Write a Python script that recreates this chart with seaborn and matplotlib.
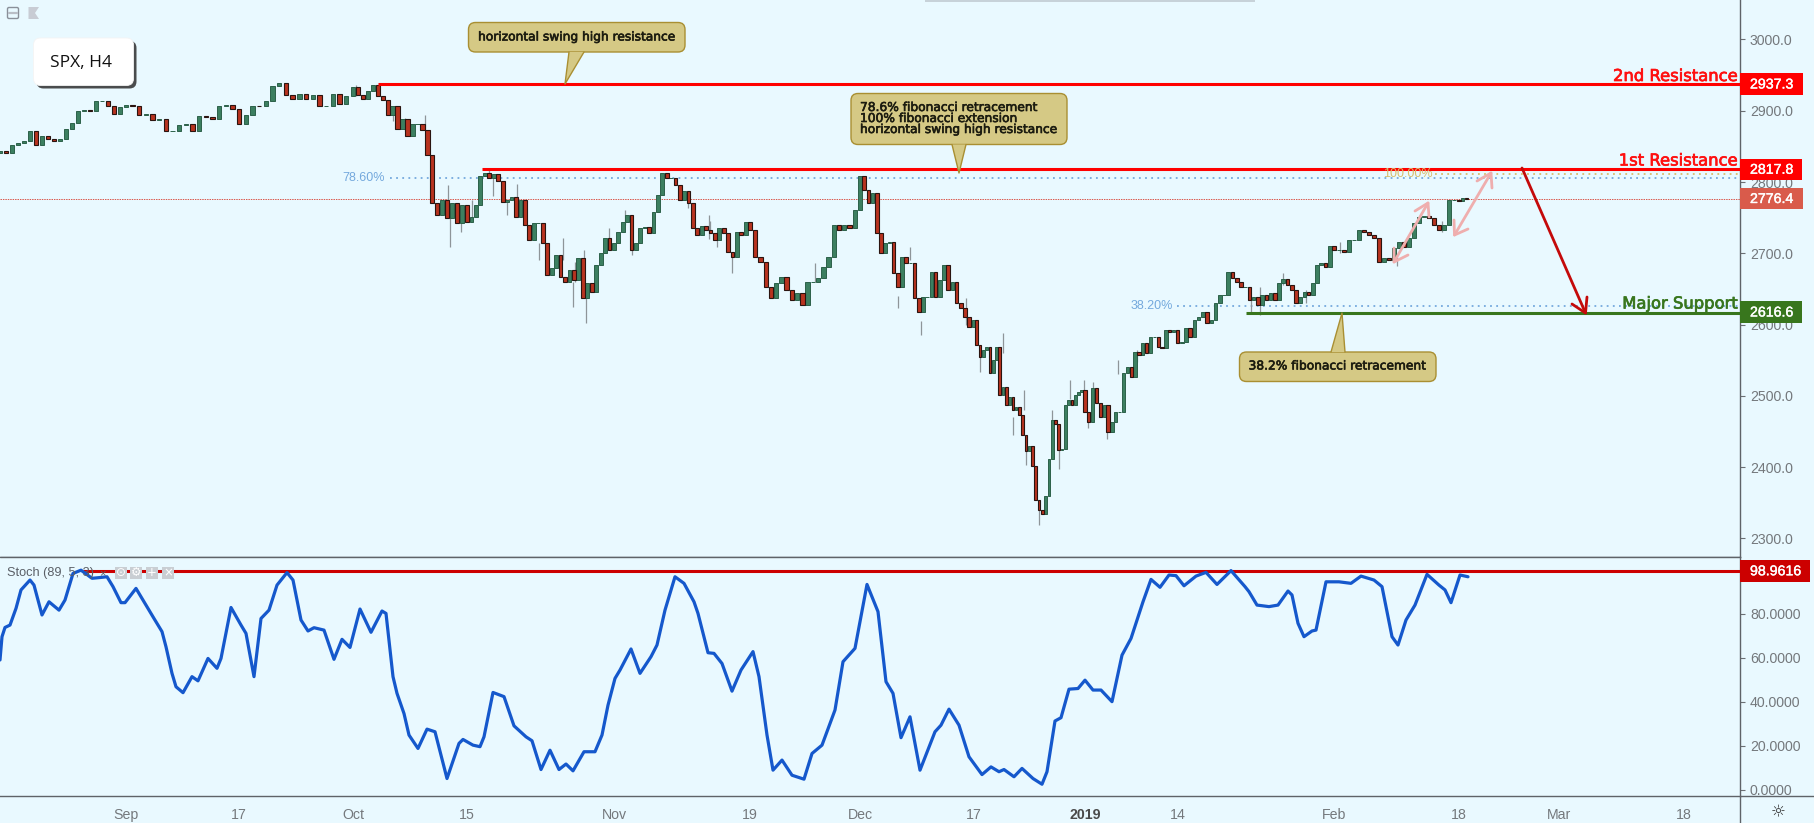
#!/usr/bin/env python3

import matplotlib
matplotlib.use("Agg")
import matplotlib.pyplot as plt
import matplotlib.patheffects as pe
from matplotlib.patches import FancyBboxPatch, Polygon, Rectangle
import numpy as np
import pandas as pd
import seaborn as sns

BG = "#E9F9FF"
WIDTH, HEIGHT = 1814, 823
AXIS_X, DIVIDER_Y, BOTTOM_Y = 1740, 557, 796

# x axis ticks, in chart units
TICK_POS = [126, 239, 353, 467, 614, 750, 860, 973.5, 1085, 1177.5, 1334, 1459, 1559, 1684]
TICK_LABELS = ["Sep", "17", "Oct", "15", "Nov", "19", "Dec", "17", "2019", "14", "Feb", "18", "Mar", "18"]

# closes between two x ticks
AUG_CLOSE = [2843, 2841, 2852, 2855, 2857, 2871, 2852, 2864, 2860, 2857, 2861, 2875, 2883, 2899, 2901, 2899,
             2913, 2913, 2906, 2896, 2905]
SEP1_CLOSE = [2908, 2906, 2894, 2896, 2887, 2889, 2871, 2871, 2880, 2882, 2871, 2892, 2891, 2889, 2906, 2908, 2903]
SEP2_CLOSE = [2882, 2894, 2907, 2906, 2913, 2935, 2939, 2922, 2917, 2923, 2917, 2922, 2906, 2906, 2924, 2909, 2920]
OCT1_CLOSE = [2933, 2922, 2917, 2927, 2936, 2920, 2915, 2894, 2906, 2875, 2889, 2864, 2882, 2882, 2873, 2838,
              2770, 2754, 2775, 2749, 2770, 2742, 2768]
OCT2_CLOSE = [2744, 2751, 2768, 2808, 2812, 2805, 2811, 2802, 2772, 2775, 2779, 2751, 2775, 2740, 2719, 2742,
              2742, 2714, 2670, 2679, 2698, 2667, 2660, 2677, 2663, 2693, 2637, 2658, 2646, 2684, 2700, 2721, 2704]
NOV1_CLOSE = [2714, 2730, 2744, 2754, 2704, 2714, 2735, 2737, 2729, 2758, 2782, 2812, 2805, 2805, 2796, 2775,
              2788, 2770, 2735, 2726, 2738, 2733, 2728, 2719, 2735, 2728, 2702, 2695, 2730, 2726, 2744]
NOV2_CLOSE = [2733, 2695, 2688, 2653, 2637, 2658, 2667, 2648, 2634, 2644, 2627, 2660, 2660, 2665, 2681, 2695,
              2740, 2733, 2740, 2735, 2761]
DEC1_CLOSE = [2808, 2789, 2770, 2784, 2728, 2700, 2715, 2716, 2672, 2653, 2695, 2686, 2686, 2637, 2618, 2639,
              2639, 2674, 2639, 2663, 2684, 2648, 2660, 2630, 2623, 2611, 2597]
DEC2_CLOSE = [2606, 2571, 2555, 2564, 2569, 2532, 2550, 2569, 2501, 2513, 2487, 2499, 2480, 2485, 2473, 2445,
              2422, 2429, 2401, 2354, 2340, 2335, 2359, 2412, 2466, 2461, 2424, 2426, 2487, 2494, 2487, 2501,
              2506, 2508]
JAN1_CLOSE = [2478, 2464, 2511, 2490, 2471, 2487, 2450, 2464, 2478, 2478, 2532, 2541, 2527, 2562, 2557, 2574,
              2560, 2583, 2583, 2569, 2567, 2592, 2590, 2592]
JAN2_CLOSE = [2574, 2576, 2595, 2583, 2606, 2611, 2618, 2602, 2606, 2630, 2641, 2641, 2674, 2665, 2660, 2653,
              2653, 2634, 2639, 2627, 2641, 2634, 2644, 2634, 2658, 2664, 2656, 2649, 2630, 2639, 2646, 2641,
              2658, 2684, 2686, 2681, 2710]
FEB1_CLOSE = [2705, 2705, 2702, 2719, 2719, 2733, 2730, 2726, 2721, 2688, 2693, 2690, 2707, 2716, 2709, 2721,
              2742, 2751, 2752, 2749, 2740, 2733, 2740, 2775, 2775]
FEB2_CLOSE = [2774, 2778, 2776.4]
PERIODS = [
    (0, 126, AUG_CLOSE), (126, 239, SEP1_CLOSE), (239, 353, SEP2_CLOSE), (353, 467, OCT1_CLOSE),
    (467, 614, OCT2_CLOSE), (614, 750, NOV1_CLOSE), (750, 860, NOV2_CLOSE), (860, 973.5, DEC1_CLOSE),
    (973.5, 1085, DEC2_CLOSE), (1085, 1177.5, JAN1_CLOSE), (1177.5, 1334, JAN2_CLOSE), (1334, 1459, FEB1_CLOSE),
    (1459, 1470, FEB2_CLOSE),
]

# the long wicks that stand out of the bodies
WICK_X = [356, 393, 405, 425, 448, 450, 461, 472, 489, 493, 507, 517, 539, 563, 573, 575, 584, 586, 609, 625,
          632, 688, 709, 710, 717, 732, 815, 898, 910, 921, 966, 980, 1003, 1013, 1024, 1026, 1039, 1052, 1059,
          1070, 1084, 1088, 1093, 1107, 1118, 1137, 1151, 1251, 1260, 1283, 1306, 1340, 1397, 1442]
WICK_LOW = [2920, 2885, 2871, 2875, 2760, 2709, 2730, 2745, 2805, 2780, 2754, 2775, 2691, 2690, 2625, 2660,
            2660, 2602, 2704, 2740, 2698, 2763, 2720, 2730, 2709, 2672, 2660, 2623, 2690, 2585, 2600, 2533,
            2560, 2445, 2480, 2403, 2319, 2460, 2398, 2495, 2505, 2455, 2500, 2439, 2530, 2548, 2567, 2618,
            2613, 2655, 2630, 2700, 2682, 2730]
WICK_HIGH = [2936, 2900, 2890, 2894, 2796, 2760, 2750, 2775, 2820, 2805, 2775, 2797, 2715, 2721, 2660, 2688,
             2705, 2640, 2735, 2761, 2715, 2780, 2754, 2745, 2730, 2700, 2686, 2640, 2709, 2605, 2637, 2560,
             2588, 2470, 2508, 2430, 2345, 2480, 2426, 2522, 2522, 2478, 2520, 2455, 2550, 2565, 2580, 2640,
             2653, 2672, 2648, 2716, 2695, 2745]

PRICE_TICKS = [2300, 2400, 2500, 2600, 2700, 2800, 2900, 3000]
RESISTANCE_2 = 2937.3
RESISTANCE_1 = 2817.8
SUPPORT = 2616.6
LAST_PRICE = 2776.4
FIB_786 = 2806
FIB_382 = 2626
FIB_100 = 2811.6

STOCH_X = [0, 2, 5, 10, 16, 21, 30, 34, 42, 49, 59, 65, 73, 81, 92, 99, 107, 113, 121, 125, 136, 144, 154, 162,
           166, 172, 176, 183, 192, 198, 208, 217, 221, 231, 241, 246, 254, 261, 269, 277, 287, 293, 301, 308,
           314, 324, 334, 342, 350, 360, 371, 382, 386, 393, 397, 404, 409, 418, 427, 435, 447, 459, 463, 473,
           480, 484, 493, 504, 514, 526, 532, 541, 550, 559, 566, 573, 584, 595, 602, 608, 615, 620, 631, 640,
           651, 657, 665, 675, 684, 694, 698, 708, 714, 722, 732, 741, 753, 759, 767, 773, 782, 792, 804, 812,
           822, 835, 843, 855, 867, 878, 886, 893, 901, 910, 920, 935, 941, 949, 959, 969, 982, 991, 999, 1004,
           1014, 1022, 1033, 1042, 1047, 1055, 1061, 1069, 1078, 1085, 1093, 1101, 1112, 1122, 1131, 1143, 1151,
           1160, 1169, 1176, 1184, 1196, 1206, 1217, 1231, 1245, 1249, 1257, 1269, 1278, 1288, 1292, 1298, 1304,
           1312, 1316, 1326, 1339, 1351, 1361, 1374, 1382, 1392, 1398, 1406, 1415, 1427, 1439, 1445, 1451, 1460,
           1468]
STOCH_VALUE = [59, 69.6, 73.8, 74.9, 82.5, 90.9, 95.4, 93.1, 79.5, 85.5, 81.7, 86.3, 98.4, 99.9, 96.2, 96.5, 96.9,
               92.4, 85.1, 85.1, 91.6, 85.5, 77.9, 71.9, 65, 52.9, 46.8, 44.1, 51.4, 49.5, 59.7, 55.2, 59.7, 82.9,
               74.9, 71.1, 51.4, 77.9, 81.7, 93.1, 98.8, 95.4, 77.2, 72.2, 73.7, 72.6, 59.3, 68.4, 64.7, 82.2,
               71.6, 81.3, 80.2, 51.4, 43.8, 34.6, 24.8, 18.7, 27.5, 26.3, 5, 21, 22.8, 20.2, 19.5, 24, 44.2, 42.3,
               29, 24, 22.2, 9.1, 17.9, 9.1, 11.6, 8.5, 17.2, 17.2, 24.8, 38.4, 50.6, 54.4, 64, 52.9, 60.5, 65.8,
               81.7, 96.9, 93.9, 85.5, 80.2, 62.3, 62, 57.4, 44.8, 54.4, 62.8, 51.4, 24.8, 8.8, 13.4, 6.5, 4.7,
               16.4, 20.2, 36.2, 58.2, 64.3, 93.4, 81, 49.1, 43.8, 23.6, 33.1, 8.8, 26.3, 29.3, 36.6, 29.3, 14.9,
               6.8, 10.3, 8.1, 9.1, 5.8, 9.6, 5, 2.4, 8.1, 31.2, 32.7, 45.7, 46, 49.8, 45.3, 45.3, 40, 61.2, 68.8,
               85.5, 95.7, 92.1, 97.7, 97.4, 92.8, 97.2, 98.9, 93.4, 99.7, 92.4, 90.1, 84, 83.3, 84, 90.4, 88.6,
               75.7, 69.6, 72.2, 72.6, 94.6, 94.6, 93.9, 97.2, 95.4, 92.4, 69.6, 65.8, 77.2, 84, 98, 93.1, 90.9,
               85.1, 97.7, 96.9]
STOCH_TICKS = [0, 20, 40, 60, 80]
STOCH_LEVEL = 99.4


def build_candles() -> pd.DataFrame:
    frames = []
    for start, end, closes in PERIODS:
        step = (end - start) / len(closes)
        frames.append(pd.DataFrame({
            "x": np.linspace(start, end, len(closes), endpoint=False),
            "close": closes,
            "width": min(step - 0.6, 4.4),
        }))
    frame = pd.concat(frames, ignore_index=True)
    frame["open"] = frame["close"].shift(1).fillna(2840)
    return frame


def draw_candles(ax: plt.Axes, frame: pd.DataFrame) -> None:
    ax.vlines(WICK_X, WICK_LOW, WICK_HIGH, color="#8E9599", lw=0.9, zorder=2)
    up = frame[frame["close"] >= frame["open"]]
    down = frame[frame["close"] < frame["open"]]
    ax.bar(up["x"], up["close"] - up["open"], bottom=up["open"], width=up["width"],
           color="#3C7F60", edgecolor="#2C6149", linewidth=0.7, zorder=3)
    ax.bar(down["x"], down["close"] - down["open"], bottom=down["open"], width=down["width"],
           color="#B8331F", edgecolor="#2A1410", linewidth=0.8, zorder=3)


def style_axis(ax: plt.Axes, ticks: list, fmt: str) -> None:
    ax.set_facecolor(BG)
    ax.set_xlim(0, AXIS_X)
    ax.yaxis.tick_right()
    ax.set_yticks(ticks)
    ax.set_yticklabels([fmt.format(t) for t in ticks])
    ax.tick_params(axis="y", direction="out", length=3.6, width=0.8, color="#6B6F74", pad=3.6,
                   labelsize=10.2, labelcolor="#74787C")
    ax.set_xlabel("")
    ax.set_ylabel("")
    for side in ["left", "top"]:
        ax.spines[side].set_visible(False)
    for side in ["right", "bottom"]:
        ax.spines[side].set_visible(True)
        ax.spines[side].set_color("#5F6368")
        ax.spines[side].set_linewidth(1.0)


def draw_callout(over: plt.Axes, box: tuple, pointer: list) -> None:
    left, top, right, bottom = box
    fill, edge = "#D5C985", "#A98F32"
    over.add_patch(FancyBboxPatch((left, top), right - left, bottom - top,
                                  boxstyle="round,pad=0,rounding_size=7", fc=fill, ec=edge, lw=1.0, zorder=6))
    over.add_patch(Polygon(pointer, closed=True, fc=fill, ec="none", zorder=7))
    over.plot([pointer[0][0], pointer[1][0], pointer[2][0]], [pointer[0][1], pointer[1][1], pointer[2][1]],
              color=edge, lw=1.0, zorder=8)


def callout_text(over: plt.Axes, x: float, y: float, label: str, ha: str = "left") -> None:
    over.text(x, y, label, ha=ha, va="center", fontsize=8.8, color="#1C1C10", family="DejaVu Sans", zorder=9,
              path_effects=[pe.withStroke(linewidth=0.45, foreground="#1C1C10")])


def price_tag(over: plt.Axes, top: float, bottom: float, right: float, color: str, label: str) -> None:
    over.add_patch(Rectangle((AXIS_X, top), right - AXIS_X, bottom - top, fc=color, ec="none", zorder=6))
    over.text(AXIS_X + 10, (top + bottom) / 2 + 0.5, label, ha="left", va="center", fontsize=10.2, color="white",
              family="Liberation Sans", zorder=7, path_effects=[pe.withStroke(linewidth=0.3, foreground="white")])


def level_label(over: plt.Axes, y: float, label: str, color: str) -> None:
    over.text(1738, y, label, ha="right", va="center", fontsize=11.8, color=color, family="DejaVu Sans", zorder=6,
              path_effects=[pe.withStroke(linewidth=0.5, foreground=color)])


def draw_overlay(over: plt.Axes) -> None:
    # window furniture
    over.add_patch(Rectangle((925, 0), 330, 2, fc="#C7D2D9", ec="none"))
    over.add_patch(FancyBboxPatch((7.5, 7.5), 11, 11, boxstyle="round,pad=0,rounding_size=1.5",
                                  fc="none", ec="#8A9099", lw=1.0))
    over.plot([9, 17], [13, 13], color="#B9BEC6", lw=1.6)
    over.add_patch(Polygon([(28.5, 7), (39, 7), (35, 13), (39, 19), (28.5, 19)], fc="#C8CCD4", ec="none"))
    over.add_patch(FancyBboxPatch((36.5, 41), 100, 47.5, boxstyle="round,pad=0,rounding_size=7", fc="#2E2E2E",
                                  ec="none", zorder=4, alpha=0.85))
    over.add_patch(FancyBboxPatch((33.5, 38), 100, 47.5, boxstyle="round,pad=0,rounding_size=7", fc="white",
                                  ec="#F4F4F4", lw=0.6, zorder=5))
    over.text(81, 62.5, "SPX, H4", ha="center", va="center", fontsize=12.5, family="Open Sans", color="#111111",
              zorder=6)

    draw_callout(over, (468.5, 22.5, 685, 52), [(569, 52), (565, 84), (584, 52)])
    callout_text(over, 577, 37, "horizontal swing high resistance", ha="center")
    draw_callout(over, (851, 93.5, 1067, 144.5), [(952, 144.5), (959, 173), (966, 144.5)])
    callout_text(over, 860, 107.5, "78.6% fibonacci retracement")
    callout_text(over, 860, 118.5, "100% fibonacci extension")
    callout_text(over, 860, 129.5, "horizontal swing high resistance")
    draw_callout(over, (1239.5, 352, 1436, 381.5), [(1331, 352), (1342, 313), (1345, 352)])
    callout_text(over, 1337.5, 366, "38.2% fibonacci retracement", ha="center")

    over.text(385, 177.5, "78.60%", ha="right", va="center", fontsize=9, color="#74A9DD", family="Liberation Sans")
    over.text(1172.5, 306, "38.20%", ha="right", va="center", fontsize=9, color="#74A9DD", family="Liberation Sans")
    over.text(1433, 173.5, "100.00%", ha="right", va="center", fontsize=9, color="#D9BE6C", family="Liberation Sans")

    level_label(over, 76.5, "2nd Resistance", "#FF1010")
    level_label(over, 161, "1st Resistance", "#FF1010")
    level_label(over, 304, "Major Support", "#38761D")

    # projected moves
    over.plot([1522, 1585.5], [168, 313], color="#C40A0A", lw=2.0, zorder=5)
    over.plot([1572, 1585.5, 1587], [304, 313, 297], color="#C40A0A", lw=2.0, zorder=5)
    pink = "#EFAEAE"
    over.plot([1394, 1428], [262, 203], color=pink, lw=2.0, zorder=5)
    over.plot([1415, 1428, 1429], [211, 203, 217], color=pink, lw=2.0, zorder=5)
    over.plot([1394, 1394, 1408], [248, 262, 255], color=pink, lw=2.0, zorder=5)
    over.plot([1491, 1454.5], [173, 235], color=pink, lw=2.0, zorder=5)
    over.plot([1477, 1491, 1492], [181, 173, 188], color=pink, lw=2.0, zorder=5)
    over.plot([1454, 1454.5, 1468], [220, 235, 229], color=pink, lw=2.0, zorder=5)

    price_tag(over, 73, 95, 1803, "#FF0000", "2937.3")
    price_tag(over, 158.5, 180, 1802, "#FF0000", "2817.8")
    price_tag(over, 188, 209, 1803, "#D95B4B", "2776.4")
    price_tag(over, 301, 323, 1802, "#38761D", "2616.6")
    price_tag(over, 560, 581.5, 1810, "#CC0000", "98.9616")

    # indicator legend
    over.text(7, 573, "Stoch (89, 5, 3)", ha="left", va="center", fontsize=9.2, color="#5A5F66",
              family="Liberation Sans", zorder=6)
    over.text(102, 573, "\u00d7", ha="center", va="center", fontsize=8, color="#5A5F66", zorder=6)
    for x, glyph in zip([121, 136, 152, 168], ["\u2299", "\u2699", "+", "\u00d7"]):
        over.add_patch(Rectangle((x - 6, 567), 12, 12, fc="#C9CED3", ec="none", zorder=6))
        over.text(x, 572.7, glyph, ha="center", va="center", fontsize=8.5, color="white", zorder=7,
                  family="DejaVu Sans")

    # axis lines the panes do not draw themselves
    over.plot([0, AXIS_X], [DIVIDER_Y, DIVIDER_Y], color="#5F6368", lw=1.0)
    over.plot([AXIS_X, WIDTH], [BOTTOM_Y, BOTTOM_Y], color="#5F6368", lw=1.0)
    over.plot([AXIS_X, AXIS_X], [BOTTOM_Y, HEIGHT], color="#5F6368", lw=1.0)
    over.text(1778.5, 812.5, "\u263c", ha="center", va="center", fontsize=12, color="#333333", family="DejaVu Sans")


def main() -> None:
    sns.set_theme(style="white", rc={"figure.facecolor": BG, "axes.facecolor": BG, "savefig.facecolor": BG})
    plt.rcParams["font.family"] = ["Liberation Sans", "DejaVu Sans"]

    fig = plt.figure(figsize=(WIDTH / 100, HEIGHT / 100), dpi=100)
    pane_w = AXIS_X / WIDTH
    ax_price = fig.add_axes([0, 1 - DIVIDER_Y / HEIGHT, pane_w, DIVIDER_Y / HEIGHT])
    ax_stoch = fig.add_axes([0, 1 - BOTTOM_Y / HEIGHT, pane_w, (BOTTOM_Y - DIVIDER_Y) / HEIGHT])
    over = fig.add_axes([0, 0, 1, 1], facecolor="none")
    over.set_xlim(0, WIDTH)
    over.set_ylim(HEIGHT, 0)
    over.axis("off")

    candles = build_candles()
    draw_candles(ax_price, candles)
    ax_price.hlines(RESISTANCE_2, 378, AXIS_X, color="#FF0000", lw=2.2, zorder=4)
    ax_price.hlines(RESISTANCE_1, 481.5, AXIS_X, color="#FF0000", lw=2.2, zorder=4)
    ax_price.hlines(SUPPORT, 1246, AXIS_X, color="#38761D", lw=2.2, zorder=4)
    ax_price.hlines(FIB_786, 389.5, AXIS_X, color="#74A9DD", lw=1.3, linestyles=(0, (1, 2.4)), zorder=1)
    ax_price.hlines(FIB_382, 1177, AXIS_X, color="#74A9DD", lw=1.3, linestyles=(0, (1, 2.4)), zorder=1)
    ax_price.hlines(FIB_100, 1435, AXIS_X, color="#D9BE6C", lw=1.3, linestyles=(0, (1, 2.4)), zorder=1)
    ax_price.hlines(LAST_PRICE, 0, AXIS_X, color="#D9564A", lw=0.7, linestyles=(0, (1.5, 1)), zorder=1)
    ax_price.set_ylim(2274, 3055.3)
    style_axis(ax_price, PRICE_TICKS, "{:.1f}")
    ax_price.set_xticks([])

    stoch = pd.DataFrame({"x": STOCH_X, "value": STOCH_VALUE})
    sns.lineplot(data=stoch, x="x", y="value", ax=ax_stoch, color="#1558CC", lw=2.3, sort=False, errorbar=None,
                 zorder=4, solid_joinstyle="round")
    ax_stoch.hlines(STOCH_LEVEL, 83, AXIS_X, color="#CC0000", lw=2.2, zorder=3)
    ax_stoch.set_ylim(-2.96, 105.9)
    style_axis(ax_stoch, STOCH_TICKS, "{:.4f}")
    ax_stoch.set_xticks(TICK_POS)
    ax_stoch.set_xticklabels(TICK_LABELS)
    ax_stoch.tick_params(axis="x", direction="out", length=3, width=0.8, color="#6B6F74", pad=5.5,
                         labelsize=10.2, labelcolor="#74787C")
    for label in ax_stoch.get_xticklabels():
        if label.get_text() == "2019":
            label.set_fontweight("bold")
            label.set_color("#4A4A4A")

    draw_overlay(over)
    fig.savefig("out.png", dpi=100, facecolor=BG)
    plt.close(fig)


if __name__ == "__main__":
    main()
